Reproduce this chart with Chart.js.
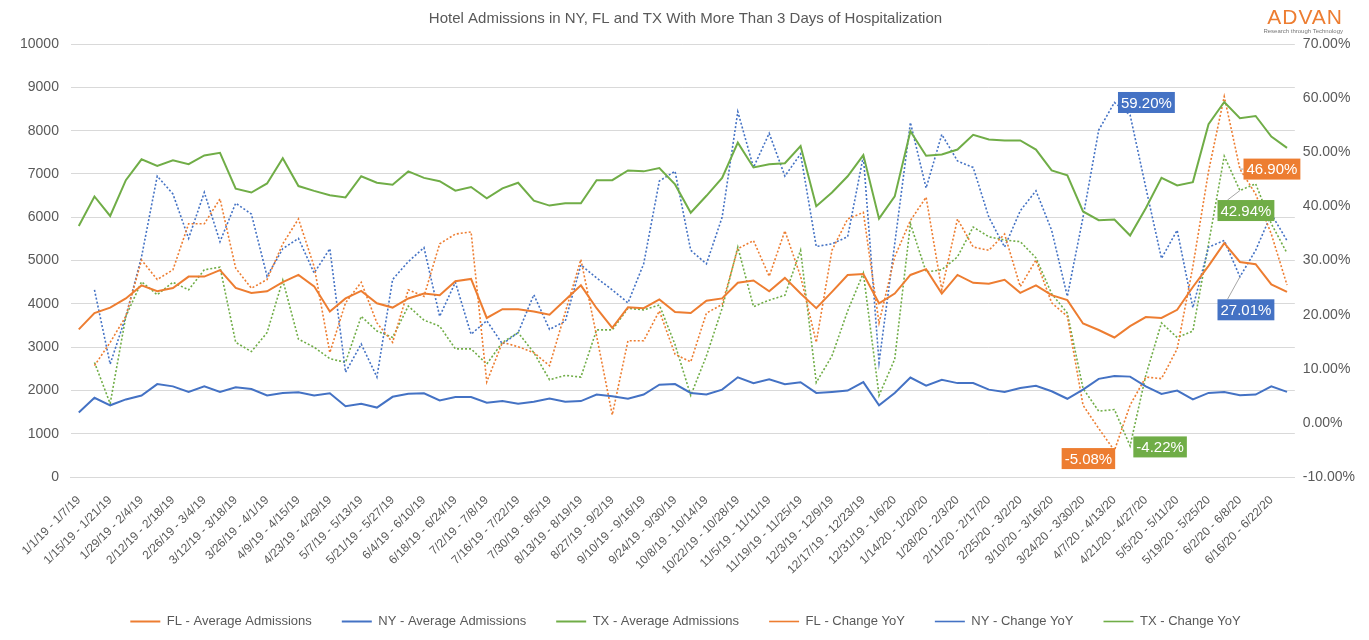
<!DOCTYPE html>
<html>
<head>
<meta charset="utf-8">
<script src="https://cdn.jsdelivr.net/npm/chart.js@4.4.1/dist/chart.umd.min.js"></script>
<style>
  html, body { margin: 0; padding: 0; background: #fff; }
  #wrap { position: relative; width: 1369px; height: 640px; }
  #logo { position: absolute; right: 26px; top: 6px; text-align: right; font-family: "Liberation Sans", Arial, sans-serif; }
  #logo .name { color: #ED7D31; font-size: 21px; letter-spacing: 1px; font-weight: 400; line-height: 22px; }
  #logo .sub { color: #777; font-size: 6px; line-height: 7px; }
</style>
</head>
<body>
<div id="wrap">
  <canvas id="chart" width="1369" height="640"></canvas>
  <div id="logo"><div class="name">ADVAN</div><div class="sub">Research through Technology</div></div>
</div>
<script>
const START_WEEK = "2019-01-01"
const WEEK_COUNT = 78

const FL_AVG = [3413,3789,3916,4127,4428,4292,4368,4631,4631,4781,4368,4255,4292,4503,4669,4406,3826,4127,4300,4014,3916,4127,4240,4202,4526,
  4578,3676,3879,3879,3826,3751,4089,4428,3901,3450,3924,3901,4104,3811,3789,4074,4127,4488,4541,4292,4601,4240,3901,4277,4669,4691,4014,
  4240,4669,4804,4240,4669,4488,4466,4556,4255,4428,4202,4089,3548,3398,3225,3488,3698,3676,3864,4391,4880,5405,4969,4917,4451,4277]
const NY_AVG = [1495,1833,1660,1796,1886,2149,2097,1969,2097,1969,2074,2036,1886,1946,1961,1886,1939,1638,1698,1608,1856,1924,1939,1773,1849,
  1849,1720,1758,1698,1743,1818,1743,1758,1909,1871,1811,1909,2134,2149,1946,1909,2022,2307,2172,2262,2149,2194,1946,1969,1999,2194,1660,
  1946,2300,2112,2247,2172,2172,2022,1969,2059,2112,1984,1811,2022,2270,2337,2322,2097,1924,1999,1796,1946,1969,1894,1909,2097,1969]
const TX_AVG = [5797,6481,6030,6857,7338,7188,7316,7225,7428,7488,6661,6571,6782,7361,6721,6609,6511,6458,6947,6797,6752,7060,6909,6834,6616,
  6699,6436,6669,6797,6383,6270,6323,6323,6857,6857,7082,7060,7135,6759,6105,6496,6909,7722,7150,7225,7248,7646,6255,6571,6947,7436,5969,
  6481,7985,7421,7451,7564,7902,7797,7774,7774,7564,7082,6970,6135,5932,5947,5578,6210,6909,6736,6812,8150,8662,8286,8338,7864,7601]

const FL_YOY = [null,10.6,14.9,19.7,30.1,26.5,28.3,36.8,36.8,41.4,28.6,24.9,26.5,33.1,37.7,28.9,13.0,22.2,26.0,18.5,14.9,24.6,23.4,33.1,34.9,
  35.3,7.6,14.9,14.1,13.0,10.6,20.4,30.2,16.1,1.5,15.2,15.2,20.7,12.7,11.3,20.3,21.9,32.2,33.7,27.1,35.5,27.1,14.9,31.9,37.7,38.9,18.5,
  30.7,37.4,41.7,24.6,37.7,32.5,31.9,34.9,25.2,30.1,22.2,19.7,3.3,-1.0,-5.08,3.3,8.5,8.2,13.7,28.9,46.5,60.3,46.9,42.3,34.9,25.5]
const NY_YOY = [null,24.6,10.9,19.7,30.7,45.6,42.3,34.1,42.6,33.5,40.6,38.6,27.1,32.2,34.1,27.7,32.2,9.4,14.6,8.5,26.5,29.8,32.4,19.7,26.0,
  16.4,18.9,14.6,16.7,23.7,17.3,18.8,29.2,26.8,24.6,22.2,29.4,44.7,46.5,31.9,29.4,38.0,57.5,47.2,53.5,45.6,49.7,32.6,33.1,34.4,49.3,11.2,
  33.1,55.5,43.4,53.3,48.4,47.2,38.0,32.5,39.2,42.9,35.6,23.4,38.0,54.1,59.2,56.9,43.5,30.4,35.6,21.3,32.5,33.7,27.01,31.9,38.6,33.7]
const TX_YOY = [null,11.2,3.6,19.7,26.1,23.7,26.0,24.6,28.3,28.8,14.9,13.2,16.7,26.4,15.5,14.0,11.9,11.2,19.7,17.0,15.8,21.6,19.0,17.9,13.7,
  13.7,10.9,14.9,16.7,13.0,8.0,8.8,8.5,17.2,17.2,21.2,20.9,21.8,14.5,5.1,12.4,21.2,32.5,21.5,22.7,23.6,31.9,7.5,12.4,20.7,27.7,5.1,
  11.8,36.8,27.9,28.3,30.7,36.2,34.4,33.8,33.5,30.5,23.9,20.3,6.4,2.2,2.5,-4.22,8.8,18.5,15.8,17.0,33.1,49.3,42.94,44.2,36.8,31.4]

// highlighted values: [dataset index, point index, dx, dy, leader line]
const CALLOUTS = [
  [4, 66, 32, 0, false],
  [3, 66, -26, 8, false],
  [5, 67, 30, 1, false],
  [3, 74, 32, 0, true],
  [5, 74, 6, 20, true],
  [4, 74, 6, 33, true],
]

const FL = "#ED7D31", NY = "#4472C4", TX = "#70AD47", TXT = "#595959"
const FONT = "'Liberation Sans', Arial, sans-serif"

const fmt = (d) => `${d.getUTCMonth() + 1}/${d.getUTCDate()}/${String(d.getUTCFullYear()).slice(2)}`
const weekLabels = []
for (let i = 0; i < WEEK_COUNT; i++) {
  const a = new Date(Date.parse(START_WEEK) + i * 7 * 86400000)
  const b = new Date(a.getTime() + 6 * 86400000)
  weekLabels.push(`${fmt(a)} - ${fmt(b)}`)
}

const solid = (label, data, color) => ({
  label, data, borderColor: color, backgroundColor: color, borderWidth: 2,
  pointRadius: 0, tension: 0, yAxisID: "y",
})
const dotted = (label, data, color) => ({
  label, data, borderColor: color, backgroundColor: color, borderWidth: 1.6,
  borderDash: [2, 2], pointRadius: 0, tension: 0, yAxisID: "y1",
})

const calloutPlugin = {
  id: "callouts",
  afterDatasetsDraw(chart) {
    const ctx = chart.ctx
    ctx.save()
    ctx.font = "15px " + FONT
    ctx.textBaseline = "middle"
    ctx.textAlign = "center"
    CALLOUTS.forEach(([ds, idx, dx, dy, leader]) => {
      const pt = chart.getDatasetMeta(ds).data[idx]
      const v = chart.data.datasets[ds].data[idx]
      const text = v.toFixed(2) + "%"
      const cx = pt.x + dx, cy = pt.y + dy
      const w = ctx.measureText(text).width + 6, h = 21
      if (leader) {
        ctx.strokeStyle = "#a6a6a6"
        ctx.lineWidth = 1
        ctx.beginPath()
        ctx.moveTo(pt.x, pt.y)
        if (dy > 10) ctx.lineTo(cx - w / 2 + 10, cy - h / 2)
        else ctx.lineTo(cx - w / 2, cy)
        ctx.stroke()
      }
      ctx.fillStyle = chart.data.datasets[ds].borderColor
      ctx.fillRect(cx - w / 2, cy - h / 2, w, h)
      ctx.fillStyle = "#fff"
      ctx.fillText(text, cx, cy + 1)
    })
    ctx.restore()
  },
}

new Chart(document.getElementById("chart"), {
  type: "line",
  data: {
    labels: weekLabels,
    datasets: [
      solid("FL - Average Admissions", FL_AVG, FL),
      solid("NY - Average Admissions", NY_AVG, NY),
      solid("TX - Average Admissions", TX_AVG, TX),
      dotted("FL - Change YoY", FL_YOY, FL),
      dotted("NY - Change YoY", NY_YOY, NY),
      dotted("TX - Change YoY", TX_YOY, TX),
    ],
  },
  options: {
    animation: false,
    responsive: false,
    layout: { padding: { left: 8, right: 6, top: 0, bottom: 2 } },
    plugins: {
      title: {
        display: true,
        text: "Hotel Admissions in NY, FL and TX With More Than 3 Days of Hospitalization",
        color: TXT,
        font: { family: FONT, size: 15, weight: "normal" },
        padding: { top: 10, bottom: 16 },
      },
      legend: {
        position: "bottom",
        labels: {
          color: TXT,
          usePointStyle: true,
          pointStyle: "line",
          pointStyleWidth: 30,
          boxWidth: 30,
          padding: 30,
          font: { family: FONT, size: 13 },
        },
      },
      tooltip: { enabled: false },
    },
    scales: {
      x: {
        offset: true,
        grid: { display: false },
        border: { color: "#d9d9d9" },
        ticks: {
          autoSkip: false,
          maxRotation: 45,
          minRotation: 45,
          color: TXT,
          padding: 8,
          font: { family: FONT, size: 12 },
          callback: function (value, index) {
            return index % 2 === 0 ? this.getLabelForValue(value) : null
          },
        },
      },
      y: {
        position: "left",
        min: 0,
        max: 10000,
        ticks: {
          stepSize: 1000, color: TXT, padding: 12,
          font: { family: FONT, size: 14 },
          callback: (v) => String(v),
        },
        grid: { color: "#d9d9d9", drawTicks: false },
        border: { display: false },
      },
      y1: {
        position: "right",
        min: -10,
        max: 70,
        ticks: {
          stepSize: 10, color: TXT, padding: 8,
          font: { family: FONT, size: 14 },
          callback: (v) => v.toFixed(2) + "%",
        },
        grid: { display: false, drawTicks: false },
        border: { display: false },
      },
    },
  },
  plugins: [calloutPlugin],
})
</script>
</body>
</html>
